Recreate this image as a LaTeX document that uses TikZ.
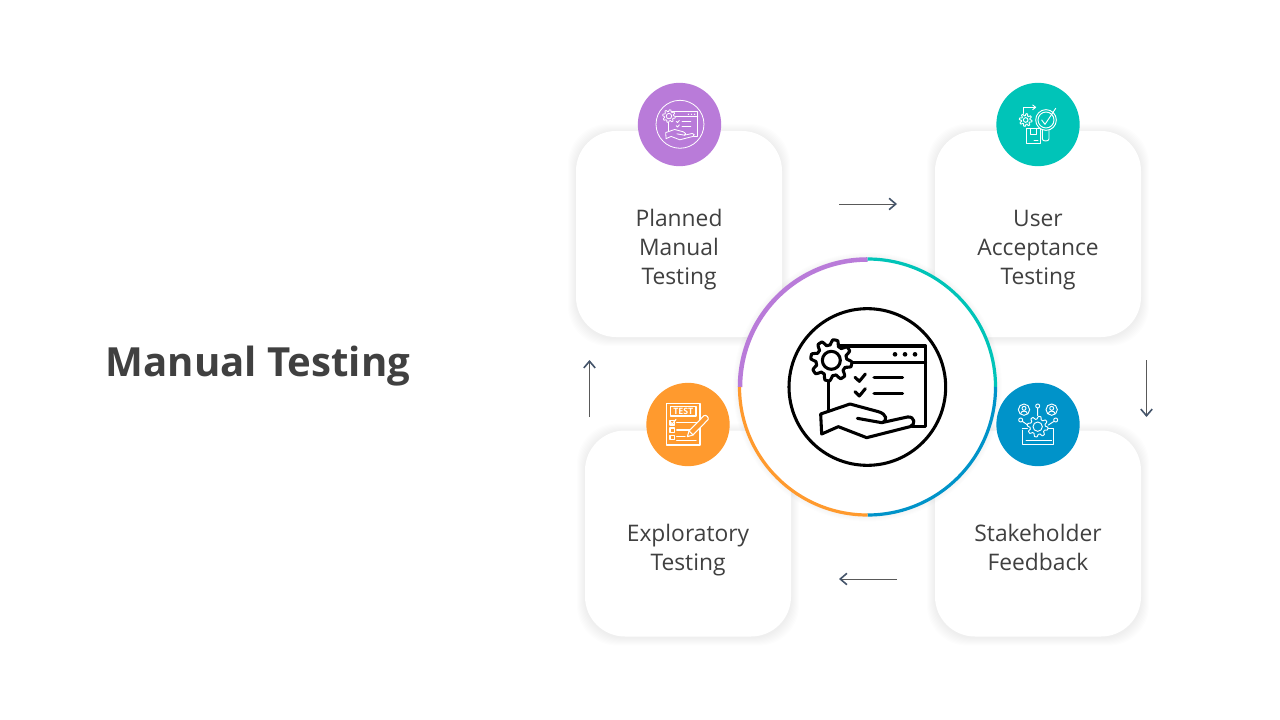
\documentclass[tikz,border=0pt]{standalone}
\usepackage{fontspec}
\setmainfont{Open Sans}
\usetikzlibrary{arrows.meta}
\definecolor{cpurple}{HTML}{B97BD9}
\definecolor{cteal}{HTML}{00C4B8}
\definecolor{cblue}{HTML}{0093C9}
\definecolor{corange}{HTML}{FF9A2E}
\definecolor{ctext}{HTML}{404040}
\definecolor{ctip}{HTML}{44546A}
\colorlet{iconfg}{black}
\colorlet{iconbg}{white}
\tikzset{
  card/.style={draw=none,fill=white,rounded corners=30pt,minimum width=154.5pt,minimum height=154.5pt,inner sep=0pt},
  badge/.style={circle,draw=none,minimum size=62.5pt,inner sep=0pt},
  cardtext/.style={align=center,text=ctext,font=\fontsize{17.1}{21.75}\selectfont,inner sep=0pt},
  flow/.style={draw=black!65,line width=0.6pt,-{Straight Barb[length=5pt,width=8.5pt,line width=1.2pt,color=ctip]}},
  ico/.style={draw=iconfg,line join=round,line cap=round},
}
% soft shadow: stacked translucent shapes
\newcommand{\softcard}[2]{%
  \foreach \i in {1,...,8}{%
    \fill[black,opacity=0.0065,rounded corners=30pt] ({#1-103-\i},{#2+1-103-\i}) rectangle ({#1+103+\i},{#2+1+103+\i});
  }}
\newcommand{\softdisc}[3]{%
  \foreach \i in {1,...,#3}{%
    \fill[black,opacity=0.008] (#1,#2) circle[radius=128.5+\i];
  }}
\newcommand{\gearshape}[5]{%
  plot[domain=0:360,samples=181,variable=\t]
  ({#1+(#3+#4*max(-1,min(1,1.7*sin(#5*\t))))*cos(\t)},{#2+(#3+#4*max(-1,min(1,1.7*sin(#5*\t))))*sin(\t)}) -- cycle}
% central window-gear-hand icon, drawn in a 570x570 local frame
\newcommand{\handicon}[1]{%
  \begin{scope}[ico,line width=#1]
    \draw (292,291) circle[radius=235];
    \draw (176,360) -- (176,168) -- (467,168) -- (467,410) -- (425,410);
    \draw (230,217) -- (467,217);
    \fill[iconfg] (375,193) circle[radius=7] (405,193) circle[radius=7] (435,193) circle[radius=7];
    \draw (255,262) -- (268,274) -- (286,252);
    \draw (255,305) -- (268,318) -- (286,296);
    \draw (312,262) -- (398,262);
    \draw (312,310) -- (398,310);
    \draw[fill=iconbg] \gearshape{184}{211}{54}{8}{8};
    \draw (184,211) circle[radius=27];
    \draw[fill=iconbg] (152,372) -- (240,342) -- (325,365) .. controls (350,372) and (355,392) .. (335,398)
      -- (412,381) .. controls (435,378) and (438,405) .. (420,410) -- (290,443) -- (205,410) -- (155,432) -- cycle;
    \draw (262,385) -- (335,398);
  \end{scope}}
\begin{document}
\begin{tikzpicture}[x=0.75pt,y=-0.75pt]
\useasboundingbox (0,0) rectangle (1280,720);
\fill[white] (0,0) rectangle (1280,720);

\node[anchor=center,text=ctext,font=\fontsize{30.1}{36}\selectfont\bfseries,inner sep=0pt] (title) at (258,366.5) {Manual Testing};

\softcard{679}{234}\softcard{1038}{234}\softcard{1038}{533.5}\softcard{688}{533.5}
\node[card] (pcard) at (679,234) {};
\node[card] (ucard) at (1038,234) {};
\node[card] (scard) at (1038,533.5) {};
\node[card] (ecard) at (688,533.5) {};

\node[cardtext] (ptext) at (679,249.5) {Planned\\Manual\\Testing};
\node[cardtext] (utext) at (1038,250.5) {User\\Acceptance\\Testing};
\node[cardtext] (stext) at (1038,547.5) {Stakeholder\\Feedback};
\node[cardtext] (etext) at (688,550) {Exploratory\\Testing};

\coordinate (a1s) at (839,204); \coordinate (a1e) at (897,204);
\coordinate (a2s) at (1146.5,360); \coordinate (a2e) at (1146.5,417);
\coordinate (a3s) at (897,579); \coordinate (a3e) at (839,579);
\coordinate (a4s) at (589.5,417); \coordinate (a4e) at (589.5,360);
\draw[flow] (a1s) -- (a1e);
\draw[flow] (a2s) -- (a2e);
\draw[flow] (a3s) -- (a3e);
\draw[flow] (a4s) -- (a4e);

% centre ring
\softdisc{867.5}{387}{6}
\node[circle,fill=white,minimum size=192.75pt,inner sep=0pt] (ring) at (867.5,387) {};
\draw[cpurple,line width=3.4pt] (867.5,387) ++(180:127.5) arc[start angle=180,end angle=270,radius=127.5];
\draw[cteal,line width=2.4pt] (867.5,387) ++(270:128) arc[start angle=270,end angle=360,radius=128];
\draw[cblue,line width=2.4pt] (867.5,387) ++(0:128) arc[start angle=0,end angle=90,radius=128];
\draw[corange,line width=2.4pt] (867.5,387) ++(90:128) arc[start angle=90,end angle=180,radius=128];
\begin{scope}[shift={(770,290)},scale=1/3]
  \handicon{2.3pt}
\end{scope}

% badges
\node[badge,fill=cpurple] (pb) at (679.5,124.5) {};
\node[badge,fill=cteal] (ub) at (1038,124.5) {};
\node[badge,fill=cblue] (sb) at (1038,424.5) {};
\node[badge,fill=corange] (eb) at (688,424.5) {};

% purple badge icon
\begin{scope}[shift={(650.2,94.6)},scale=0.102]
  \colorlet{iconfg}{white}\colorlet{iconbg}{cpurple}
  \handicon{0.6pt}
\end{scope}

% teal badge icon
\begin{scope}[shift={(990,75)},scale=1/3]
  \colorlet{iconfg}{white}\colorlet{iconbg}{cteal}
  \begin{scope}[ico,line width=0.7pt]
    \draw \gearshape{107}{135}{16}{3}{8};
    \draw (107,135) circle[radius=7];
    \draw (100,115) -- (100,97) -- (136,97);
    \draw (128,90) -- (137,97) -- (128,104);
    \draw[fill=iconbg] (157,165) -- (157,192) .. controls (157,200) and (177,200) .. (177,192) -- (177,165);
    \draw[fill=iconbg] (168,135) circle[radius=31];
    \draw (168,135) circle[radius=24];
    \draw (155,135) -- (165,148) -- (197,100);
    \draw[fill=iconbg] (110,160) rectangle (150,205);
    \draw (122,160) -- (122,178) -- (138,178) -- (138,160);
    \draw (132,195) -- (144,195);
  \end{scope}
\end{scope}

% blue badge icon
\begin{scope}[shift={(990,375)},scale=1/3]
  \colorlet{iconfg}{white}\colorlet{iconbg}{cblue}
  \begin{scope}[ico,line width=0.7pt]
    \draw (97,165) -- (97,207) -- (190,207) -- (190,160) -- (175,160);
    \draw (97,160) -- (112,160);
    \draw (108,197) -- (185,197);
    \draw[fill=iconbg] \gearshape{143}{155}{27}{4}{8};
    \draw (143,155) circle[radius=14];
    \draw (102,104) circle[radius=17] (185,104) circle[radius=17];
    \draw (102,100) circle[radius=6] (185,100) circle[radius=6];
    \draw (92,116) .. controls (92,106) and (112,106) .. (112,116);
    \draw (175,116) .. controls (175,106) and (195,106) .. (195,116);
    \draw (143,93) circle[radius=6] (143,99) -- (143,122);
    \draw (92,135) circle[radius=6] (97,139) -- (113,150);
    \draw (197,135) circle[radius=6] (192,139) -- (175,150);
  \end{scope}
\end{scope}

% orange badge icon
\begin{scope}[shift={(640,375)},scale=1/3]
  \colorlet{iconfg}{white}\colorlet{iconbg}{corange}
  \begin{scope}[ico,line width=0.8pt]
    \draw (80,85) rectangle (180,210);
    \draw (92,95) rectangle (168,123);
    \node[text=white,font=\fontsize{6.6}{6.6}\selectfont\bfseries,inner sep=0pt] (testlabel) at (130,109) {TEST};
    \draw (90,137) rectangle (104,150);
    \draw (90,159) rectangle (104,172);
    \draw (90,181) rectangle (104,194);
    \draw (110,143) -- (170,143);
    \draw (110,165) -- (160,165);
    \draw (110,185) -- (135,185);
    \draw (110,197) -- (168,197);
    \draw (94,143) -- (97,147) -- (108,133);
    \draw[fill=iconbg] (142,185) -- (147,168) -- (192,122) .. controls (198,118) and (208,128) .. (204,134) -- (159,180) -- cycle;
    \draw (147,168) -- (159,180);
  \end{scope}
\end{scope}
\end{tikzpicture}
\end{document}
